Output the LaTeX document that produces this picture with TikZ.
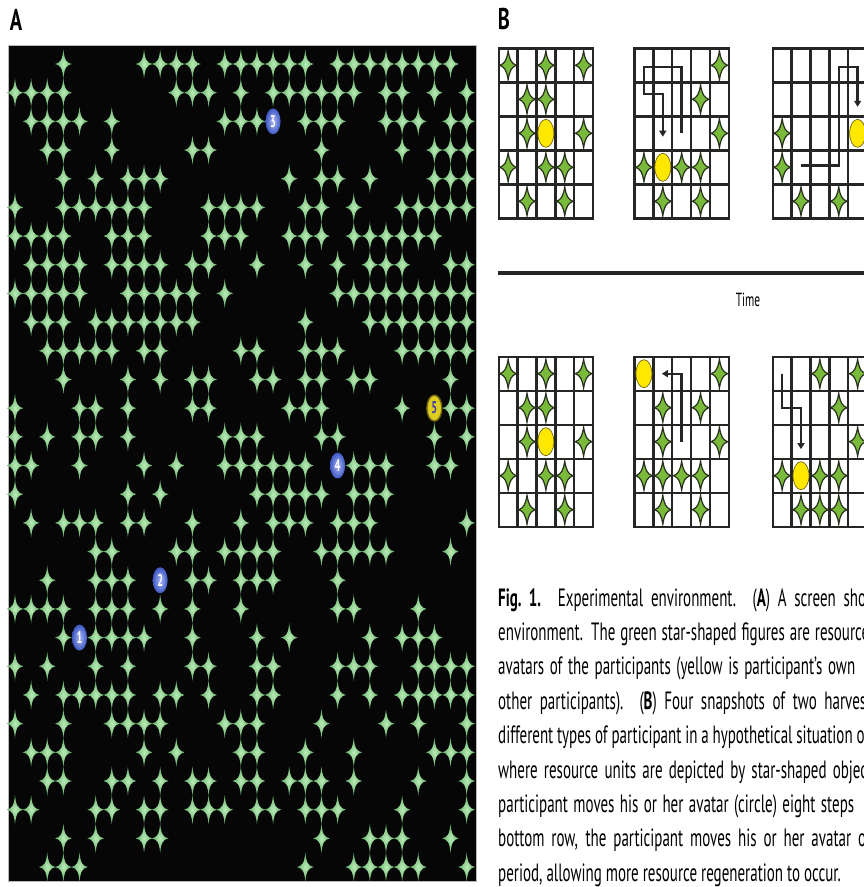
\documentclass[tikz,border=0pt]{standalone}
\usepackage{fontspec}
\setmainfont{PT Sans}
\newfontfamily\capfont[FakeStretch=0.6]{PT Sans}
\newfontfamily\labfont[FakeStretch=0.68]{PT Sans}
\usetikzlibrary{arrows.meta,shapes.geometric}
\definecolor{gridk}{RGB}{38,38,38}
\definecolor{bgreen}{RGB}{122,186,58}
\definecolor{bedge}{RGB}{40,48,30}
\definecolor{byellow}{RGB}{255,232,0}
\definecolor{yedge}{RGB}{110,100,20}
\definecolor{ainner}{RGB}{185,236,182}
\definecolor{aouter}{RGB}{98,172,102}
\definecolor{avin}{RGB}{170,185,245}
\definecolor{avout}{RGB}{62,88,195}
\definecolor{panelk}{RGB}{6,6,6}
\definecolor{av5fill}{RGB}{222,205,30}
\definecolor{av5text}{RGB}{60,60,175}
\tikzset{
  astar/.pic={\shade[inner color=ainner, outer color=aouter]
    (0pt,-14.6pt) .. controls (1.0pt,-4.2pt) and (2.7pt,-1.2pt) .. (8.4pt,0pt)
    .. controls (2.7pt,1.2pt) and (1.0pt,4.2pt) .. (0pt,14.6pt)
    .. controls (-1.0pt,4.2pt) and (-2.7pt,1.2pt) .. (-8.4pt,0pt)
    .. controls (-2.7pt,-1.2pt) and (-1.0pt,-4.2pt) .. cycle;},
  bstar/.pic={\filldraw[fill=bgreen, draw=bedge, line width=1.2pt]
    (0pt,-14.5pt) .. controls (1.5pt,-5pt) and (3.5pt,-1.8pt) .. (8.2pt,0pt)
    .. controls (3.5pt,1.8pt) and (1.5pt,5pt) .. (0pt,14.5pt)
    .. controls (-1.5pt,5pt) and (-3.5pt,1.8pt) .. (-8.2pt,0pt)
    .. controls (-3.5pt,-1.8pt) and (-1.5pt,-5pt) .. cycle;},
  gl/.style={draw=gridk, line width=2.4pt, line cap=rect},
  mv/.style={draw=gridk, line width=2.4pt, -{Triangle[length=6pt,width=7pt]}},
  yel/.style={ellipse, minimum width=16pt, minimum height=28pt, inner sep=0pt,
    fill=byellow, draw=yedge, line width=0.7pt},
  bav/.style={ellipse, minimum width=15pt, minimum height=26pt, inner sep=0pt,
    inner color=avin, outer color=avout, text=white,
    font=\capfont\bfseries\fontsize{17}{17}\selectfont},
  yav/.style={ellipse, minimum width=15pt, minimum height=26pt, inner sep=0pt,
    fill=av5fill, draw=yedge, line width=1.4pt, text=av5text,
    font=\capfont\bfseries\fontsize{17}{17}\selectfont},
  lab/.style={inner sep=0pt, font=\labfont\bfseries\fontsize{30}{30}\selectfont},
  capt/.style={anchor=base west, inner sep=0pt, font=\capfont\fontsize{25}{30}\selectfont},
}
\newcommand\bgridlines{\foreach \k in {0,...,5}{\draw[gl] (\k,0) -- (\k,5); \draw[gl] (0,\k) -- (5,\k);}}
\begin{document}
\begin{tikzpicture}[x=1pt,y=-1pt]
\useasboundingbox (0,0) rectangle (864,887);
\clip (0,0) rectangle (864,887);
\fill[white] (0,0) rectangle (864,887);
% panel labels
\node[lab] (labA) at (16,20) {A};
\node[lab] (labB) at (504,19) {B};
% ---------------- panel A
\fill[panelk] (8,45) rectangle (476,881);
\draw[gray!55, line width=0.8pt] (8,45) rectangle (476,881);
\foreach \r/\cs in {
 0/{3,8,9,10,11,13,14,15,16,17,18,20,21,22,23,24,25,26,27},
 1/{0,1,2,3,10,11,12,14,16,17,18,19,20,21,23,24,26,28},
 2/{1,2,3,4,6,13,14,15,18,19,20,23,24,25,27,28},
 3/{2,3,6,11,12,19,24,26,27,28},
 4/{3,5,7,8,9,17,19,20,22,26,27,28},
 5/{0,3,4,5,6,7,8,12,13,14,15,18,19,21,24,25,26,27,28},
 6/{0,1,2,3,6,7,8,12,13,14,17,18,19,21,22,23,24,25,26},
 7/{1,2,3,4,6,7,8,9,11,12,15,18,20,22,23,24,27,28},
 8/{0,1,2,3,4,7,8,9,10,11,13,20,21,22,23,24,25,26,27,28},
 9/{1,2,3,5,6,7,8,9,10,11,18,22,23,24,25,26,27,28},
 10/{2,3,4,5,6,8,9,14,15,18,19,20,24,25,26,27,28},
 11/{3,7,9,11,12,15,16,18,19,21,22,27},
 12/{0,4,5,7,11,12,17,18,19,24,27,28},
 13/{0,2,4,5,7,13,14,15,19,20,26,28},
 14/{0,1,4,8,10,13,14,15,16,17,18,21,22,23,26,27},
 15/{0,7,9,15,16,17,18,19,21,22,23},
 16/{1,3,4,5,7,8,11,14,16,17,18,20,21,22,28},
 17/{5,6,10,11,13,14,15,16,19,20,21,22,23,27},
 18/{2,5,6,7,11,12,14,15,16,20},
 19/{0,1,2,3,5,6,7,9,11,14,20,21,25},
 20/{3,5,6,7,8,11,15,17,22,24,25,26},
 21/{0,2,5,7,11,12,15,16,20,21,22,25,26,27,28},
 22/{1,3,4,5,6,7,9,10,12,15,16,20,22,24,25,26,27,28},
 23/{0,3,6,7,8,9,13,14,15,19,23,25,28},
 24/{1,2,3,8,10,14,15,18,21,26,27,28},
 25/{2,3,6,7,9,11,12,14,15,17,18,19,21,25,28},
 26/{0,1,5,6,8,9,11,12,13,15,16,18,19,20,24,28},
 27/{3,5,8,9,19,22,23,24,27},
 28/{2,3,4,18,21,22,23,24,25,28}}
 {\foreach \c in \cs {\pic at (15+16.13*\c, 64+28.68*\r) {astar};}}
\node[bav] (av1) at (15+16.13*4, 64+28.68*20) {1};
\node[bav] (av2) at (15+16.13*9, 64+28.68*18) {2};
\node[bav] (av3) at (15+16.13*16, 64+28.68*2) {3};
\node[bav] (av4) at (15+16.13*20, 64+28.68*14) {4};
\node[yav] (av5) at (15+16.13*26, 64+28.68*12) {5};
% ---------------- panel B, top row
\begin{scope}[shift={(498.7,48.3)}, x=18.87pt, y=-34pt]
 \bgridlines
 \foreach \r/\c in {0/0,0/2,0/4,1/1,1/2,2/1,2/4,3/0,3/2,3/3,4/1,4/3} {\pic at (\c+0.5,\r+0.5) {bstar};}
 \node[yel] (y1) at (2.5,2.5) {};
\end{scope}
\begin{scope}[shift={(634.5,48.3)}, x=18.87pt, y=-34pt]
 \bgridlines
 \foreach \r/\c in {0/4,1/3,2/4,3/0,3/2,3/3,4/1,4/3} {\pic at (\c+0.5,\r+0.5) {bstar};}
 \node[yel] (y2) at (1.5,3.5) {};
 \draw[mv] (2.5,2.5) -- (2.5,0.55) -- (0.5,0.55) -- (0.5,1.35) -- (1.5,1.35) -- (1.5,2.6);
\end{scope}
\begin{scope}[shift={(772.7,48.3)}, x=18.87pt, y=-34pt]
 \bgridlines
 \foreach \r/\c in {2/0,3/0,4/1,4/3} {\pic at (\c+0.5,\r+0.5) {bstar};}
 \node[yel] (y3) at (4.5,2.5) {};
 \draw[mv] (1.5,3.45) -- (3.5,3.45) -- (3.5,0.55) -- (4.5,0.55) -- (4.5,1.72);
\end{scope}
% time axis
\draw[line width=3.5pt, draw=gridk] (498,273) -- (870,273);
\node[inner sep=0pt, font=\capfont\fontsize{19}{19}\selectfont] (time) at (748,300) {Time};
% ---------------- panel B, bottom row
\begin{scope}[shift={(498.7,356.7)}, x=18.87pt, y=-34pt]
 \bgridlines
 \foreach \r/\c in {0/0,0/2,0/4,1/1,1/2,2/1,2/4,3/0,3/2,3/3,4/1,4/3} {\pic at (\c+0.5,\r+0.5) {bstar};}
 \node[yel] (y4) at (2.5,2.5) {};
\end{scope}
\begin{scope}[shift={(634.5,356.7)}, x=18.87pt, y=-34pt]
 \bgridlines
 \foreach \r/\c in {0/4,1/1,1/3,2/1,2/4,3/0,3/1,3/2,3/3,4/1,4/3} {\pic at (\c+0.5,\r+0.5) {bstar};}
 \node[yel] (y5) at (0.5,0.5) {};
 \draw[mv] (2.5,2.5) -- (2.5,0.5) -- (1.45,0.5);
\end{scope}
\begin{scope}[shift={(772.7,356.7)}, x=18.87pt, y=-34pt]
 \bgridlines
 \foreach \r/\c in {0/2,0/4,1/3,2/4,3/0,3/2,3/3,4/1,4/2,4/3} {\pic at (\c+0.5,\r+0.5) {bstar};}
 \node[yel] (y6) at (1.5,3.5) {};
 \draw[mv] (0.5,0.5) -- (0.5,1.5) -- (1.5,1.5) -- (1.5,2.72);
\end{scope}
% ---------------- caption
\node[capt] (cap1) at (498,606.0) {\makebox[368pt][s]{\textbf{Fig.\ 1.} Experimental environment. (\textbf{A}) A screen sho}};
\node[capt] (cap2) at (498,640.4) {\makebox[371pt][s]{environment. The green star-shaped figures are resource}};
\node[capt] (cap3) at (498,674.8) {\makebox[357pt][s]{avatars of the participants (yellow is participant’s own}};
\node[capt] (cap4) at (498,709.2) {\makebox[368pt][s]{other participants). (\textbf{B}) Four snapshots of two harves}};
\node[capt] (cap5) at (498,743.6) {\makebox[371pt][s]{different types of participant in a hypothetical situation of}};
\node[capt] (cap6) at (498,778.0) {\makebox[369pt][s]{where resource units are depicted by star-shaped objec}};
\node[capt] (cap7) at (498,812.4) {\makebox[356pt][s]{participant moves his or her avatar (circle) eight steps}};
\node[capt] (cap8) at (498,846.8) {\makebox[368pt][s]{bottom row, the participant moves his or her avatar o}};
\node[capt] (cap9) at (498,881.2) {period, allowing more resource regeneration to occur.};
\end{tikzpicture}
\end{document}
